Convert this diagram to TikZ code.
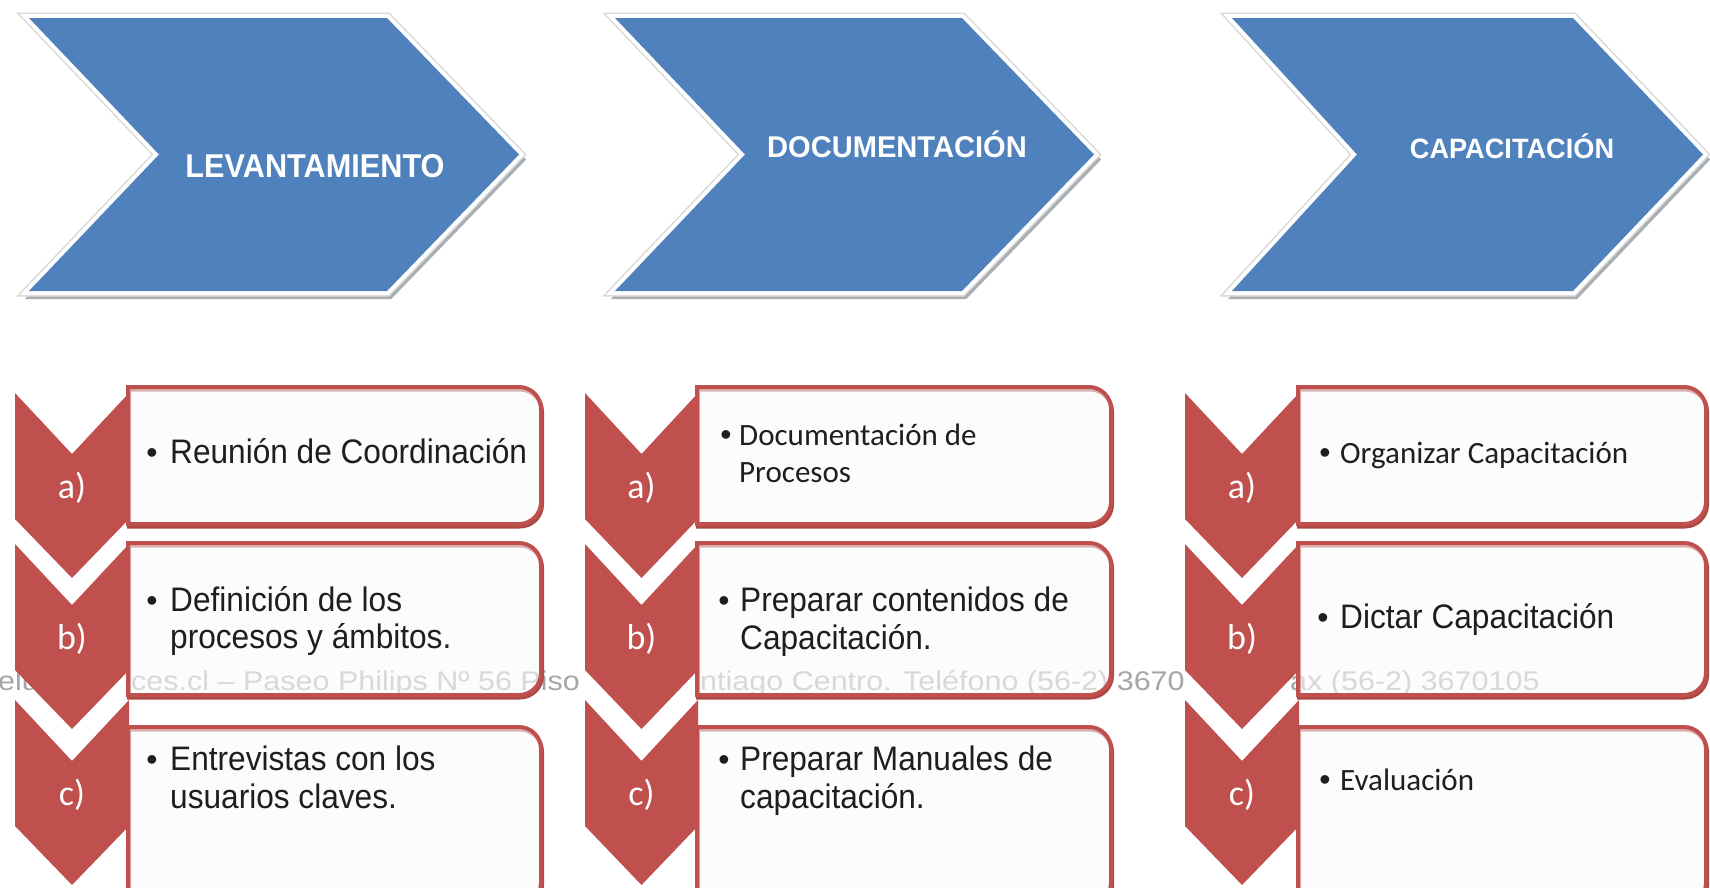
\documentclass[tikz,border=0pt]{standalone}
\usepackage{fontspec}
\usepackage{graphicx}
\setmainfont{Liberation Sans}
\newfontfamily\calfont{Carlito}
\definecolor{chevblue}{HTML}{4F81BD}
\definecolor{chevred}{HTML}{C0504D}
\definecolor{shadowgray}{HTML}{A9AEB5}
\definecolor{wmgray}{HTML}{A6A6A6}
\definecolor{boxfill}{HTML}{FAFAFA}
\definecolor{txtcol}{HTML}{1E1E1E}
\newcommand\artxt[1]{\scalebox{0.93}[1]{#1}}
\newcommand\wmtxt[1]{\scalebox{1.13}[1]{#1}}
\newcommand\bluechev[4]{%
  \begin{scope}[shift={(3,5)}]
    \draw[shadowgray, fill=shadowgray, line width=6, line join=miter] (#1,18) -- (#2,18) -- (#3,154.5) -- (#2,291) -- (#1,291) -- (#4,154.5) -- cycle;
  \end{scope}
  \draw[black!15, line width=11, line join=miter] (#1,18) -- (#2,18) -- (#3,154.5) -- (#2,291) -- (#1,291) -- (#4,154.5) -- cycle;
  \draw[white, line width=8, line join=miter] (#1,18) -- (#2,18) -- (#3,154.5) -- (#2,291) -- (#1,291) -- (#4,154.5) -- cycle;
  \fill[chevblue] (#1,18) -- (#2,18) -- (#3,154.5) -- (#2,291) -- (#1,291) -- (#4,154.5) -- cycle;
}
\newcommand\redchev[4]{%
  \fill[chevred] (#1,#4) -- (#2,{#4+61}) -- (#3,#4) -- (#3,{#4+126}) -- (#2,{#4+185}) -- (#1,{#4+126}) -- cycle;
}
\newcommand\itembox[4]{%
  \begin{scope}[shift={(1,2.5)}]
    \draw[chevred!90!black, line width=4] (#1,#3) -- ({#2-22},#3) .. controls ({#2-9.9},#3) and (#2,{#3+9.9}) .. (#2,{#3+22}) -- (#2,{#4-22}) .. controls (#2,{#4-9.9}) and ({#2-9.9},#4) .. ({#2-22},#4) -- (#1,#4) -- cycle;
  \end{scope}
  \draw[chevred, line width=4, fill=boxfill, fill opacity=0.6] (#1,#3) -- ({#2-22},#3) .. controls ({#2-9.9},#3) and (#2,{#3+9.9}) .. (#2,{#3+22}) -- (#2,{#4-22}) .. controls (#2,{#4-9.9}) and ({#2-9.9},#4) .. ({#2-22},#4) -- (#1,#4) -- cycle;
}
\begin{document}
\begin{tikzpicture}[x=1pt,y=-1pt,
  title/.style={text=white, font=\bfseries, inner sep=0pt, anchor=base},
  itemtxt/.style={font=\fontsize{34}{34}\selectfont, text=txtcol, inner sep=0pt, anchor=base west},
  caltxt/.style={font=\calfont\fontsize{31}{31}\selectfont, text=txtcol, inner sep=0pt, anchor=base west},
  bul/.style={font=\fontsize{32}{32}\selectfont, text=txtcol, inner sep=0pt, anchor=base},
  lbl/.style={font=\calfont\fontsize{36}{36}\selectfont, text=white, inner sep=0pt, anchor=base},
  wm/.style={font=\fontsize{27}{27}\selectfont, text=wmgray, inner sep=0pt, anchor=base west}]
\useasboundingbox (0,0) rectangle (1710,887);
\clip (0,0) rectangle (1710,887);
\fill[white] (0,0) rectangle (1710,887);

% top chevrons
\bluechev{29}{387}{519}{159}
\bluechev{615}{962}{1094}{745}
\bluechev{1232}{1573}{1703}{1357}
\node[title, font=\bfseries\fontsize{33}{33}\selectfont] (t1) at (315,177) {\scalebox{0.93}[1]{LEVANTAMIENTO}};
\node[title, font=\bfseries\fontsize{30}{30}\selectfont] (t2) at (897,157) {\scalebox{0.97}[1]{DOCUMENTACIÓN}};
\node[title, font=\bfseries\fontsize{28}{28}\selectfont] (t3) at (1512,158) {\scalebox{0.97}[1]{CAPACITACIÓN}};

% watermark
\node[wm] (w1) at (-2,690) {\wmtxt{elu}};
\node[wm] (w2) at (131,690) {\wmtxt{ces.cl – Paseo Philips Nº 56 Piso}};
\node[wm] (w3) at (700,690) {\wmtxt{ntiago Centro. Teléfono (56-2) 3670}};
\node[wm] (w4) at (1290,690) {\wmtxt{ax (56-2) 3670105}};

% boxes
\itembox{128}{541}{387}{524}
\itembox{128}{541}{543}{695}
\itembox{128}{541}{727}{905}
\itembox{697}{1111}{387}{524}
\itembox{697}{1111}{543}{695}
\itembox{697}{1111}{727}{905}
\itembox{1298}{1706}{387}{524}
\itembox{1298}{1706}{543}{695}
\itembox{1298}{1706}{727}{905}

% red chevrons
\foreach \xl/\xc/\xr in {15/72/129, 585/641.5/698, 1185/1242/1299}{
  \redchev{\xl}{\xc}{\xr}{393}
  \redchev{\xl}{\xc}{\xr}{544}
  \redchev{\xl}{\xc}{\xr}{700}
}
\node[lbl] (a1) at (72,498) {a)};
\node[lbl] (b1) at (72,649) {b)};
\node[lbl] (c1) at (72,805) {c)};
\node[lbl] (a2) at (641.5,498) {a)};
\node[lbl] (b2) at (641.5,649) {b)};
\node[lbl] (c2) at (641.5,805) {c)};
\node[lbl] (a3) at (1242,498) {a)};
\node[lbl] (b3) at (1242,649) {b)};
\node[lbl] (c3) at (1242,805) {c)};

% column 1 texts
\node[bul] (p1a) at (152,463) {•};
\node[itemtxt] (x1a) at (170,463) {\artxt{Reunión de Coordinación}};
\node[bul] (p1b) at (152,611) {•};
\node[itemtxt] (x1b) at (170,611) {\artxt{Definición de los}};
\node[itemtxt] (y1b) at (170,648) {\artxt{procesos y ámbitos.}};
\node[bul] (p1c) at (152,770) {•};
\node[itemtxt] (x1c) at (170,770) {\artxt{Entrevistas con los}};
\node[itemtxt] (y1c) at (170,808) {\artxt{usuarios claves.}};

% column 2 texts
\node[bul] (p2a) at (726,445) {•};
\node[caltxt] (x2a) at (739,445) {Documentación de};
\node[caltxt] (y2a) at (739,482) {Procesos};
\node[bul] (p2b) at (724,611) {•};
\node[itemtxt] (x2b) at (740,611) {\artxt{Preparar contenidos de}};
\node[itemtxt] (y2b) at (740,649) {\artxt{Capacitación.}};
\node[bul] (p2c) at (724,770) {•};
\node[itemtxt] (x2c) at (740,770) {\artxt{Preparar Manuales de}};
\node[itemtxt] (y2c) at (740,808) {\artxt{capacitación.}};

% column 3 texts
\node[bul] (p3a) at (1325,463) {•};
\node[caltxt] (x3a) at (1340,463) {Organizar Capacitación};
\node[bul] (p3b) at (1323,628) {•};
\node[itemtxt] (x3b) at (1340,628) {\artxt{Dictar Capacitación}};
\node[bul] (p3c) at (1325,790) {•};
\node[caltxt] (x3c) at (1340,790) {Evaluación};
\end{tikzpicture}
\end{document}
